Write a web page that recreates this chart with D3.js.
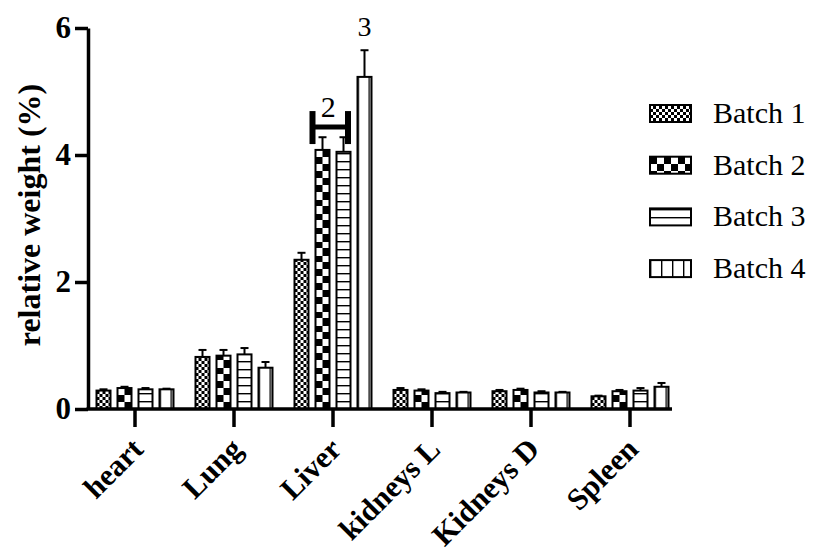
<!DOCTYPE html>
<html>
<head>
<meta charset="utf-8">
<script src="https://cdn.jsdelivr.net/npm/d3@7"></script>
<style>
  body { margin: 0; background: #fff; }
  text { font-family: "Liberation Serif", "Times New Roman", serif; }
</style>
</head>
<body>
<div id="chart"></div>
<script>
// data
const categories = ["heart", "Lung", "Liver", "kidneys L", "Kidneys D", "Spleen"];
const batches = ["Batch 1", "Batch 2", "Batch 3", "Batch 4"];
const batch1 = [0.29, 0.82, 2.35, 0.30, 0.28, 0.20];
const batch2 = [0.33, 0.84, 4.08, 0.29, 0.30, 0.28];
const batch3 = [0.31, 0.86, 4.05, 0.25, 0.26, 0.29];
const batch4 = [0.31, 0.65, 5.23, 0.26, 0.26, 0.35];
const err1 = [0.02, 0.11, 0.11, 0.03, 0.02, 0.01];
const err2 = [0.02, 0.09, 0.20, 0.02, 0.02, 0.02];
const err3 = [0.02, 0.10, 0.23, 0.02, 0.02, 0.04];
const err4 = [0.01, 0.09, 0.42, 0.01, 0.01, 0.06];
const yTicks = [0, 2, 4, 6];
const values = [batch1, batch2, batch3, batch4];
const errors = [err1, err2, err3, err4];

const width = 814, height = 552;

const svg = d3.select("#chart").append("svg")
    .attr("width", width)
    .attr("height", height);

const y = d3.scaleLinear().domain([0, 6]).range([409, 28]);
const x0 = d3.scaleBand().domain(categories).range([85.5, 679.5]);
const x1 = d3.scaleBand().domain(batches).range([-38.5, 38.5]).paddingInner(1 / 3);
const bw = x1.bandwidth();

const defs = svg.append("defs");

// patterns for each batch
function makePattern(id, bx, kind) {
    const base = y(0);
    let p;
    if (kind === 0) {
        p = defs.append("pattern").attr("id", id).attr("patternUnits", "userSpaceOnUse")
            .attr("x", bx).attr("y", base).attr("width", 6).attr("height", 6);
        p.append("rect").attr("width", 6).attr("height", 6).attr("fill", "#fff");
        p.append("rect").attr("width", 3).attr("height", 3).attr("fill", "#000");
        p.append("rect").attr("x", 3).attr("y", 3).attr("width", 3).attr("height", 3).attr("fill", "#000");
    } else if (kind === 1) {
        p = defs.append("pattern").attr("id", id).attr("patternUnits", "userSpaceOnUse")
            .attr("x", bx).attr("y", base).attr("width", 14).attr("height", 14);
        p.append("rect").attr("width", 14).attr("height", 14).attr("fill", "#fff");
        p.append("rect").attr("width", 7).attr("height", 7).attr("fill", "#000");
        p.append("rect").attr("x", 7).attr("y", 7).attr("width", 7).attr("height", 7).attr("fill", "#000");
    } else if (kind === 2) {
        p = defs.append("pattern").attr("id", id).attr("patternUnits", "userSpaceOnUse")
            .attr("x", bx).attr("y", base).attr("width", 20).attr("height", 8);
        p.append("rect").attr("width", 20).attr("height", 8).attr("fill", "#fff");
        p.append("rect").attr("y", 0).attr("width", 20).attr("height", 1.4).attr("fill", "#000");
    } else {
        p = defs.append("pattern").attr("id", id).attr("patternUnits", "userSpaceOnUse")
            .attr("x", bx).attr("y", base).attr("width", 11).attr("height", 20);
        p.append("rect").attr("width", 11).attr("height", 20).attr("fill", "#fff");
        p.append("rect").attr("x", 0).attr("width", 1.4).attr("height", 20).attr("fill", "#000");
    }
}

// bars
const bars = [];
categories.forEach((c, ci) => {
    batches.forEach((b, bi) => {
        bars.push({ c, b, bi, v: values[bi][ci], e: errors[bi][ci] });
    });
});

bars.forEach((d, i) => {
    d.x = x0(d.c) + x0.bandwidth() / 2 + x1(d.b);
    d.pid = "pat" + i;
    makePattern(d.pid, d.x, d.bi);
});

const g = svg.append("g");

// error bars
g.selectAll(".err")
    .data(bars)
    .join("g")
    .each(function (d) {
        const cx = d.x + bw / 2;
        const sel = d3.select(this);
        sel.append("line").attr("x1", cx).attr("x2", cx)
            .attr("y1", y(d.v)).attr("y2", y(d.v + d.e))
            .attr("stroke", "#000").attr("stroke-width", 2);
        sel.append("line").attr("x1", cx - 4).attr("x2", cx + 4)
            .attr("y1", y(d.v + d.e)).attr("y2", y(d.v + d.e))
            .attr("stroke", "#000").attr("stroke-width", 2);
    });

g.selectAll(".bar")
    .data(bars)
    .join("rect")
    .attr("x", d => d.x)
    .attr("y", d => y(d.v))
    .attr("width", bw)
    .attr("height", d => y(0) - y(d.v))
    .attr("fill", d => `url(#${d.pid})`)
    .attr("stroke", "#000")
    .attr("stroke-width", 2);

// annotations on Liver
const liverC = x0("Liver") + x0.bandwidth() / 2;
const bl = liverC + x1("Batch 2") - 3;
const br = liverC + x1("Batch 3") + bw - 2.5;
const by = y(4.44);
svg.append("line").attr("x1", bl).attr("x2", br).attr("y1", by).attr("y2", by)
    .attr("stroke", "#000").attr("stroke-width", 5);
[bl, br].forEach(xx => {
    svg.append("line").attr("x1", xx).attr("x2", xx).attr("y1", by - 16).attr("y2", by + 17)
        .attr("stroke", "#000").attr("stroke-width", 6);
});
svg.append("text").attr("x", (bl + br) / 2 - 2).attr("y", by - 10)
    .attr("text-anchor", "middle").attr("font-size", 30).text("2");
svg.append("text").attr("x", liverC + x1("Batch 4") + bw / 2)
    .attr("y", y(5.23 + 0.42) - 14)
    .attr("text-anchor", "middle").attr("font-size", 28).text("3");

// y axis
const yAxis = svg.append("g").attr("transform", "translate(88,0)")
    .call(d3.axisLeft(y).tickValues(yTicks).tickFormat(d3.format("d")).tickSize(13).tickSizeOuter(0).tickPadding(4));
yAxis.select(".domain").attr("stroke-width", 3.5);
yAxis.selectAll(".tick line").attr("stroke-width", 3.5);
yAxis.selectAll(".tick text")
    .attr("font-family", "Liberation Serif, Times New Roman, serif")
    .attr("font-size", 31).attr("font-weight", "bold").attr("fill", "#000");

// x axis
const xAxis = svg.append("g").attr("transform", `translate(0,${y(0)})`)
    .call(d3.axisBottom(x0).tickSize(18).tickSizeOuter(0).tickFormat(""));
xAxis.select(".domain").attr("d", "M86.5,0H672").attr("stroke-width", 3.5);
xAxis.selectAll(".tick line").attr("stroke-width", 3.5);

svg.append("g").selectAll("text")
    .data(categories)
    .join("text")
    .attr("transform", d => `translate(${x0(d) + x0.bandwidth() / 2 + 10},${y(0) + 42}) rotate(-45)`)
    .attr("text-anchor", "end")
    .attr("font-size", 30.5)
    .attr("font-weight", "bold")
    .text(d => d);

// y label
svg.append("text")
    .attr("transform", "translate(40,215) rotate(-90)")
    .attr("text-anchor", "middle")
    .attr("font-size", 32)
    .attr("font-weight", "bold")
    .text("relative weight (%)");

// legend
const legend = svg.append("g");
batches.forEach((b, i) => {
    const ly = 113 + i * 51.7;
    const pid = "leg" + i;
    makePattern(pid, 650, i);
    legend.append("rect").attr("x", 650).attr("y", ly - 8).attr("width", 41).attr("height", 17)
        .attr("fill", `url(#${pid})`).attr("stroke", "#000").attr("stroke-width", 2);
    legend.append("text").attr("x", 713).attr("y", ly + 10)
        .attr("font-size", 30).text(b);
});
</script>
</body>
</html>
